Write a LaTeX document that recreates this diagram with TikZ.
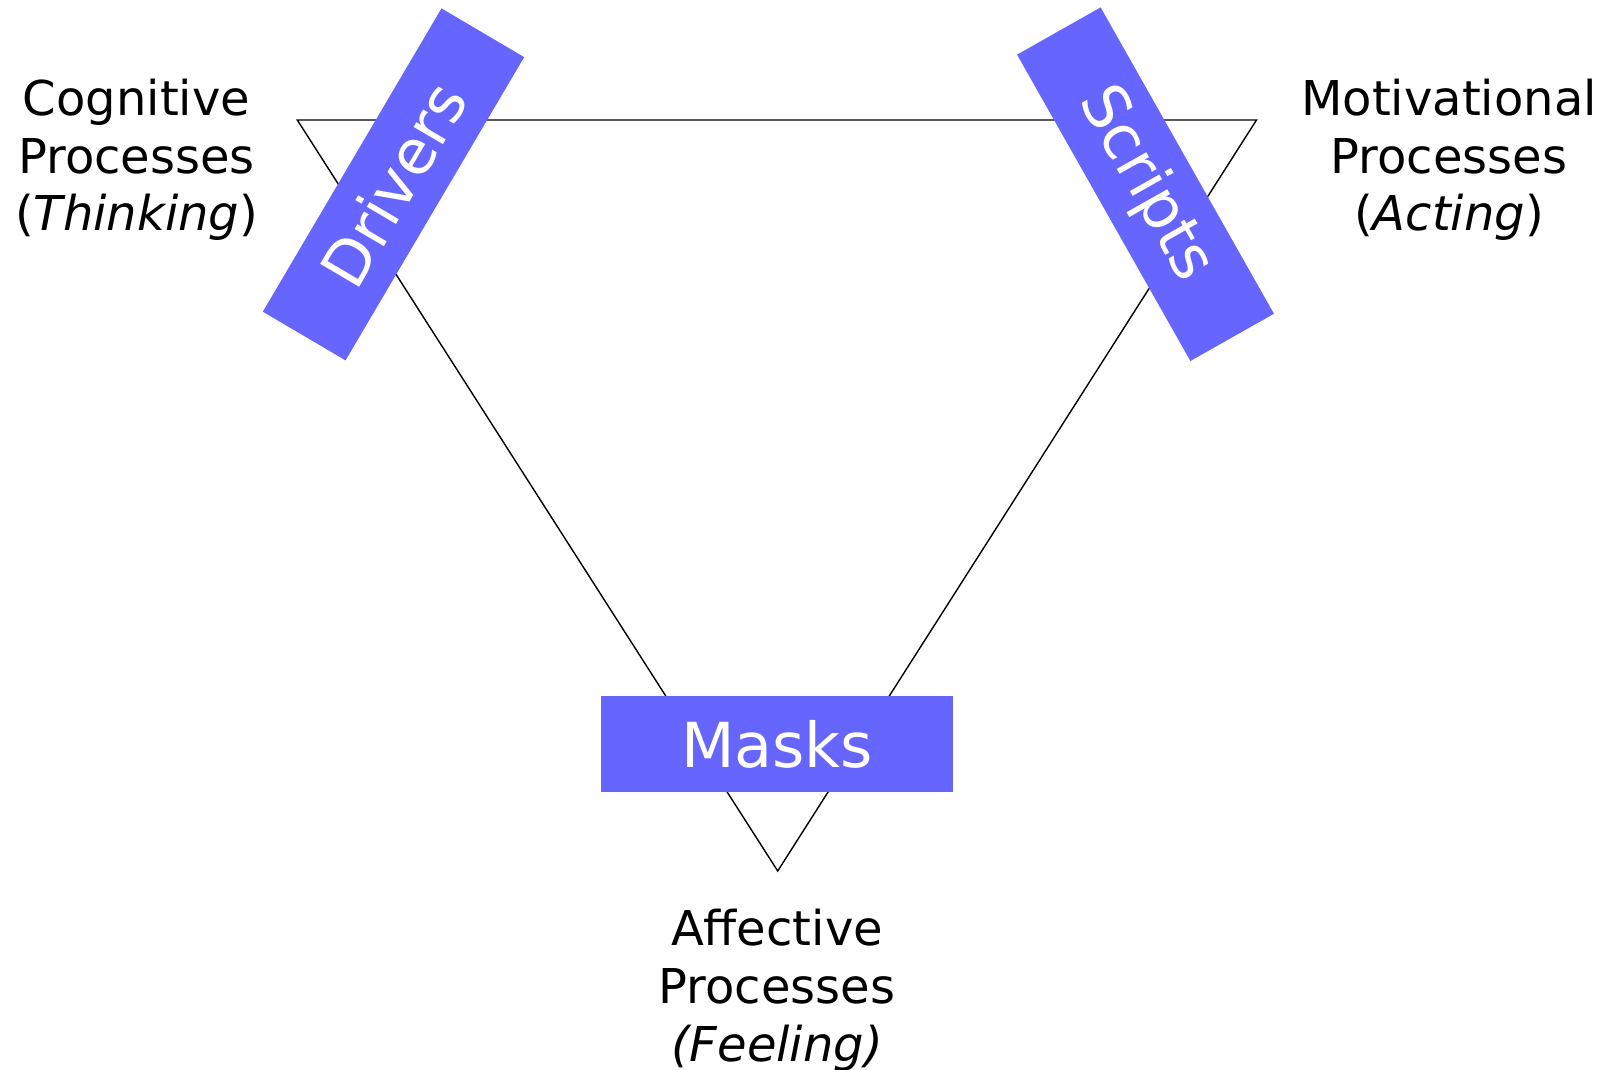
\documentclass[tikz,border=0pt]{standalone}
\usepackage{fontspec}
\setmainfont{DejaVu Sans}
\definecolor{maskblue}{HTML}{6666FF}
\tikzset{
  tabox/.style={fill=maskblue, text=white, minimum width=176pt, minimum height=48pt,
    inner sep=0pt, font=\fontsize{31}{37}\selectfont},
  proc/.style={align=center, anchor=north, inner sep=0pt,
    font=\fontsize{24}{28.85}\selectfont},
}
\begin{document}
\begin{tikzpicture}[x=0.5pt,y=-0.5pt]
\useasboundingbox (0,0) rectangle (1611,1070);
\coordinate (cog) at (297.3,120);
\coordinate (mot) at (1256.5,120);
\coordinate (aff) at (777.7,871);
\draw[line width=0.7pt] (cog) -- (mot) -- (aff) -- cycle;

\node[tabox, rotate=59.5] (drivers) at (393.5,184.4) {Drivers};
\node[tabox, rotate=-60.5] (scripts) at (1145.5,184.2) {Scripts};
\node[tabox] (masks) at (777,744) {Masks};

\node[proc] (cognitive) at (136.6,78.5) {Cognitive\\Processes\\(\textit{Thinking})};
\node[proc] (motivational) at (1449,78.5) {Motivational\\Processes\\(\textit{Acting})};
\node[proc] (affective) at (777,909) {Affective\\Processes\\\textit{(Feeling)}};
\end{tikzpicture}
\end{document}
